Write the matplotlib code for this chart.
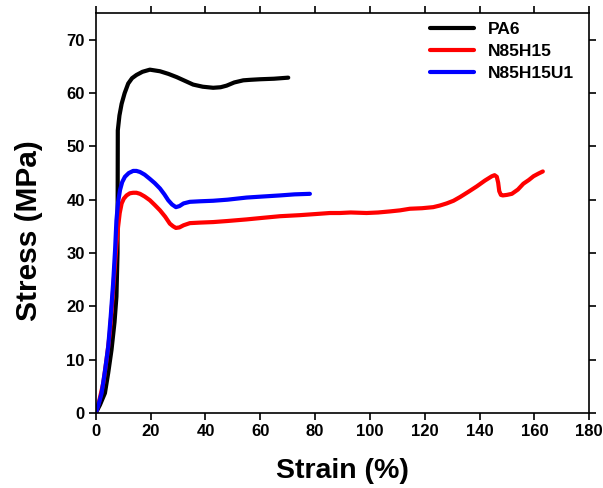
import matplotlib.pyplot as plt

plt.rcParams["font.family"] = ["Liberation Sans", "DejaVu Sans"]
plt.rcParams["font.weight"] = "bold"

# values
pa6_strain = [0, 1.5, 3.3, 4.5, 5.7, 6.8, 7.5, 7.9, 8.0, 8.6, 9.4, 10.5, 11.8, 13.2,
              14.8, 17.0, 19.7, 23.4, 26.5, 29.5, 32.5, 35.5, 39.0, 42.8, 45.5,
              47.7, 50.5, 53.8, 56.5, 59.9, 65.0, 70.2]
pa6_stress = [0, 1.5, 3.7, 7.5, 11.8, 17.0, 21.8, 30.0, 53.0, 55.8, 58.0, 60.0, 61.8,
              62.8, 63.4, 64.0, 64.4, 64.1, 63.6, 63.0, 62.3, 61.6, 61.2, 61.0, 61.1,
              61.4, 62.0, 62.4, 62.5, 62.6, 62.7, 62.9]

n85h15_strain = [0, 1.2, 2.7, 3.9, 5.1, 6.0, 6.9, 7.5, 8.1, 8.7, 9.4, 10.2, 11.2, 12.4,
                 13.6, 14.8, 16.1, 17.8, 19.7, 21.5, 23.4, 25.3, 27.0, 28.2, 29.2,
                 30.5, 32.0, 34.3, 38.0, 42.8, 48.0, 55.0, 61.0, 67.2, 74.5, 80.0,
                 85.4, 89.0, 93.0, 98.8, 103.0, 107.3, 111.0, 114.6, 119.0, 123.1,
                 125.5, 128.0, 130.5, 132.9, 136.0, 139.0, 142.0, 144.5, 145.5, 146.3,
                 146.8, 147.2, 147.8, 148.5, 150.0, 151.8, 154.0, 156.0, 158.0,
                 159.7, 161.5, 163.1]
n85h15_stress = [0, 2.2, 5.6, 10.0, 15.0, 21.0, 27.4, 31.5, 34.9, 37.5, 39.3, 40.2,
                 40.8, 41.2, 41.3, 41.3, 41.1, 40.6, 39.9, 39.0, 38.0, 36.8, 35.5,
                 35.0, 34.7, 34.8, 35.2, 35.6, 35.7, 35.8, 36.0, 36.3, 36.6, 36.9,
                 37.1, 37.3, 37.5, 37.5, 37.6, 37.5, 37.6, 37.8, 38.0, 38.3, 38.4,
                 38.6, 38.9, 39.3, 39.8, 40.5, 41.5, 42.5, 43.6, 44.4, 44.6, 44.3,
                 43.2, 41.6, 40.9, 40.8, 40.9, 41.1, 41.9, 43.0, 43.7, 44.4, 44.9,
                 45.3]

n85h15u1_strain = [0, 1.0, 2.1, 3.3, 4.5, 5.4, 6.3, 7.0, 7.5, 8.1, 8.8, 9.6, 10.6,
                   12.0, 13.6, 14.8, 16.1, 17.8, 19.7, 21.5, 23.4, 25.0, 26.4, 27.8,
                   29.2, 30.5, 32.0, 34.3, 38.0, 42.8, 48.0, 55.0, 61.0, 67.2, 72.5,
                   78.1]
n85h15u1_stress = [0, 1.6, 3.7, 7.8, 12.4, 18.0, 24.3, 30.5, 36.1, 39.5, 41.8, 43.3,
                   44.3, 45.0, 45.4, 45.4, 45.2, 44.7, 43.9, 43.1, 42.1, 41.0, 39.9,
                   39.1, 38.6, 38.8, 39.3, 39.6, 39.7, 39.8, 40.0, 40.4, 40.6, 40.8,
                   41.0, 41.1]

series_names = ["PA6", "N85H15", "N85H15U1"]
series_colors = ["black", "red", "blue"]

x_ticks = list(range(0, 181, 20))
y_ticks = list(range(0, 71, 10))

fig = plt.figure(figsize=(6.03, 4.88), dpi=100)
ax = fig.add_axes([0.159, 0.154, 0.818, 0.819])

curves = [(pa6_strain, pa6_stress), (n85h15_strain, n85h15_stress),
          (n85h15u1_strain, n85h15u1_stress)]
for (xs, ys), name, color in zip(curves, series_names, series_colors):
    ax.plot(xs, ys, color=color, lw=3.0, label=name,
            solid_capstyle="round", solid_joinstyle="round")

ax.set_xlim(0, 180)
ax.set_ylim(0, 75)
ax.set_xticks(x_ticks)
ax.set_yticks(y_ticks)
ax.tick_params(direction="out", length=5, width=1.2, labelsize=12, pad=3,
               top=True, right=True, labeltop=False, labelright=False)
for lab in ax.get_xticklabels() + ax.get_yticklabels():
    lab.set_fontweight("bold")
for sp in ax.spines.values():
    sp.set_linewidth(1.2)

ax.set_xlabel("Strain (%)", fontsize=20.5, fontweight="bold", labelpad=14)
ax.set_ylabel("Stress (MPa)", fontsize=21.5, fontweight="bold")
ax.yaxis.set_label_coords(-0.1075, 0.455)

leg = ax.legend(loc="upper left", bbox_to_anchor=(0.646, 1.017), frameon=False,
                fontsize=12.5, handlelength=2.5, handletextpad=0.8,
                labelspacing=0.38, borderaxespad=0.5)
for t in leg.get_texts():
    t.set_fontweight("bold")

fig.savefig("out.png", dpi=100)
